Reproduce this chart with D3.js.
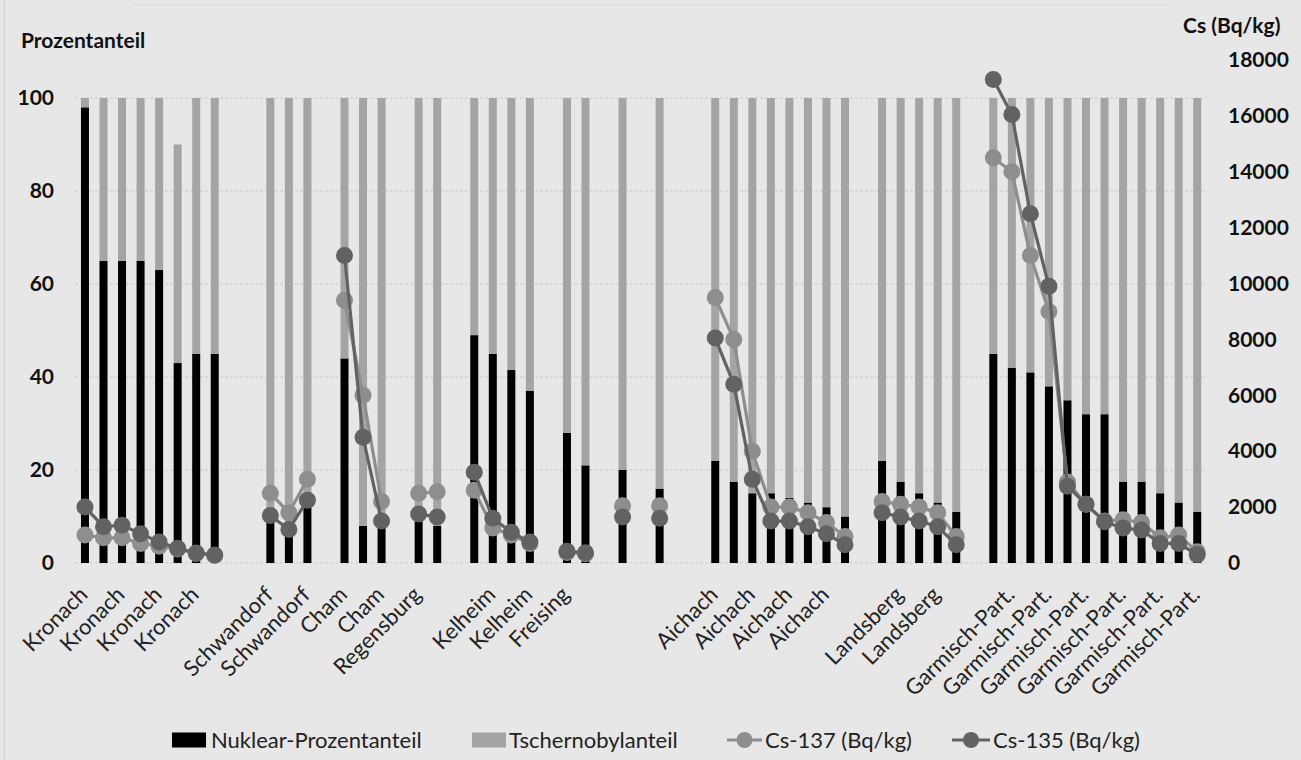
<!DOCTYPE html>
<html><head><meta charset="utf-8">
<script src="https://cdn.jsdelivr.net/npm/d3@7"></script>
<style>
html,body{margin:0;padding:0;background:#e7e7e7;}
svg{display:block;font-family:Lato,"Open Sans",sans-serif;}
</style></head><body>
<svg id="chart" width="1301" height="760"></svg>
<script>
// 61 category slots ("" = empty slot in the original chart)
const categories = [
 "Kronach","Kronach","Kronach","Kronach","Kronach","Kronach","Kronach","Kronach","","",
 "Schwandorf","Schwandorf","Schwandorf","","Cham","Cham","Cham","","Regensburg","Regensburg",
 "","Kelheim","Kelheim","Kelheim","Kelheim","","Freising","Freising","","",
 "","","","","Aichach","Aichach","Aichach","Aichach","Aichach","Aichach",
 "Aichach","Aichach","","Landsberg","Landsberg","Landsberg","Landsberg","Landsberg","","Garmisch-Part.",
 "Garmisch-Part.","Garmisch-Part.","Garmisch-Part.","Garmisch-Part.","Garmisch-Part.","Garmisch-Part.","Garmisch-Part.","Garmisch-Part.","Garmisch-Part.","Garmisch-Part.",
 "Garmisch-Part."
];
// only every second category label is shown
const tickLabels = categories.map((c, i) => i % 2 === 0 ? c : "");

const nuklear = [
 98,65,65,65,63,43,45,45,null,null,
 9,6,12,null,44,8,8,null,9,8,
 null,49,45,41.5,37,null,28,21,null,20,
 null,16,null,null,22,17.5,15,15,14,13,
 12,10,null,22,17.5,15,13,11,null,45,
 42,41,38,35,32,32,17.5,17.5,15,13,
 11
];
const tschernobyl = [
 2,35,35,35,37,47,55,55,null,null,
 91,94,88,null,56,92,92,null,91,92,
 null,51,55,58.5,63,null,72,79,null,80,
 null,84,null,null,78,82.5,85,85,86,87,
 88,90,null,78,82.5,85,87,89,null,55,
 58,59,62,65,68,68,82.5,82.5,85,87,
 89
];
const cs137 = [
 1000,900,900,700,600,500,340,270,null,null,
 2500,1800,3000,null,9400,6000,2200,null,2500,2550,
 null,2600,1250,1000,700,null,380,330,null,2050,
 null,2050,null,null,9500,8000,4000,2000,2000,1800,
 1450,950,null,2200,2100,2000,1800,950,null,14500,
 14000,11000,9000,2900,2100,1500,1550,1450,900,1000,
 400
];
const cs135 = [
 2000,1300,1350,1050,750,530,360,290,null,null,
 1700,1200,2250,null,11000,4500,1500,null,1750,1650,
 null,3250,1600,1100,750,null,420,370,null,1650,
 null,1600,null,null,8050,6400,3000,1500,1500,1300,
 1050,650,null,1800,1650,1500,1300,650,null,17300,
 16050,12500,9900,2750,2100,1480,1250,1180,700,700,
 300
];
const pctTicks = [0,20,40,60,80,100];
const csTicks = [0,2000,4000,6000,8000,10000,12000,14000,16000,18000];
const legendItems = ["Nuklear-Prozentanteil","Tschernobylanteil","Cs-137 (Bq/kg)","Cs-135 (Bq/kg)"];

const C = {bg:"#e7e7e7", black:"#000000", gray:"#a4a4a4", l137:"#8e8e8e", l135:"#626262", grid:"#cbcbcb", text:"#111"};

const svg = d3.select("#chart");
svg.append("rect").attr("width",1301).attr("height",760).attr("fill",C.bg);
svg.append("line").attr("x1",4.5).attr("x2",4.5).attr("y1",0).attr("y2",760).attr("stroke","#d3d3d3");
svg.append("line").attr("x1",135).attr("x2",1168).attr("y1",5).attr("y2",5).attr("stroke","#d2d2d2").attr("stroke-dasharray","2,2");

const x = d3.scaleBand().domain(d3.range(categories.length)).range([75.7,1206.5]).padding(0);
const yL = d3.scaleLinear().domain([0,100]).range([563,98]);
const yR = d3.scaleLinear().domain([0,18000]).range([563,60]);
const cx = i => x(i) + x.bandwidth()/2;
const bw = 8;

// gridlines
svg.append("g").selectAll("line").data(pctTicks).join("line")
  .attr("x1",75).attr("x2",1206).attr("y1",d=>yL(d)).attr("y2",d=>yL(d))
  .attr("stroke",C.grid).attr("stroke-width",1).attr("stroke-dasharray","3,2");

// stacked bars
const stack = categories.map((c,i)=>({i, n:nuklear[i], t:tschernobyl[i]})).filter(d=>d.n!=null);
const bars = svg.append("g");
bars.selectAll("rect.n").data(stack).join("rect").attr("class","n")
  .attr("x",d=>cx(d.i)-bw/2).attr("width",bw)
  .attr("y",d=>yL(d.n)).attr("height",d=>yL(0)-yL(d.n)).attr("fill",C.black);
bars.selectAll("rect.t").data(stack).join("rect").attr("class","t")
  .attr("x",d=>cx(d.i)-bw/2).attr("width",bw)
  .attr("y",d=>yL(d.n+d.t)).attr("height",d=>yL(d.n)-yL(d.n+d.t)).attr("fill",C.gray);

// lines
function drawSeries(vals, color){
  const g = svg.append("g");
  const line = d3.line().defined(d=>d.v!=null).x(d=>cx(d.i)).y(d=>yR(d.v));
  const data = vals.map((v,i)=>({i,v}));
  g.append("path").datum(data).attr("d",line).attr("fill","none")
    .attr("stroke",color).attr("stroke-width",3.2).attr("stroke-linejoin","round");
  g.selectAll("circle").data(data.filter(d=>d.v!=null)).join("circle")
    .attr("cx",d=>cx(d.i)).attr("cy",d=>yR(d.v)).attr("r",8.5).attr("fill",color);
}
drawSeries(cs137, C.l137);
drawSeries(cs135, C.l135);

// axes
const axL = svg.append("g").attr("transform","translate(75,0)")
  .call(d3.axisLeft(yL).tickValues(pctTicks).tickSize(0).tickPadding(21));
const axR = svg.append("g").attr("transform","translate(1206,0)")
  .call(d3.axisRight(yR).tickValues(csTicks).tickSize(0).tickPadding(22).tickFormat(d3.format("d")));
[axL,axR].forEach(a=>{
  a.select(".domain").remove();
  a.selectAll("text").attr("font-size",21).attr("font-weight","bold").attr("fill",C.text).attr("font-family","Lato");
});
const axB = svg.append("g").attr("transform","translate(0,563)")
  .call(d3.axisBottom(x).tickSize(0).tickFormat(i=>tickLabels[i]));
axB.select(".domain").remove();
axB.selectAll("text").attr("font-size",22).attr("fill","#222").attr("font-family","Lato")
  .attr("text-anchor","end").attr("dy",null).attr("y",null)
  .attr("transform","translate(4,33) rotate(-45)");

// axis titles
svg.append("text").attr("x",21).attr("y",48).text("Prozentanteil")
  .attr("font-size",21).attr("font-weight","bold").attr("fill",C.text);
svg.append("text").attr("x",1183).attr("y",33).text("Cs (Bq/kg)")
  .attr("font-size",21).attr("font-weight","bold").attr("fill",C.text);

// legend
const lg = svg.append("g");
const ly = 740;
lg.append("rect").attr("x",172).attr("y",ly-7.5).attr("width",34).attr("height",15).attr("fill",C.black);
lg.append("text").attr("x",211).attr("y",ly+7.5).text(legendItems[0]);
lg.append("rect").attr("x",472).attr("y",ly-7.5).attr("width",34).attr("height",15).attr("fill",C.gray);
lg.append("text").attr("x",509).attr("y",ly+7.5).text(legendItems[1]);
[[727,762,legendItems[2],C.l137],[952,990,legendItems[3],C.l135]].forEach(([a,b,t,c])=>{
  lg.append("line").attr("x1",a).attr("x2",b).attr("y1",ly).attr("y2",ly).attr("stroke",c).attr("stroke-width",3.2);
  lg.append("circle").attr("cx",(a+b)/2).attr("cy",ly).attr("r",8).attr("fill",c);
  lg.append("text").attr("x",b+3).attr("y",ly+7.5).text(t);
});
lg.selectAll("text").attr("font-size",22).attr("fill","#222").attr("font-family","Lato");
</script>
</body></html>
